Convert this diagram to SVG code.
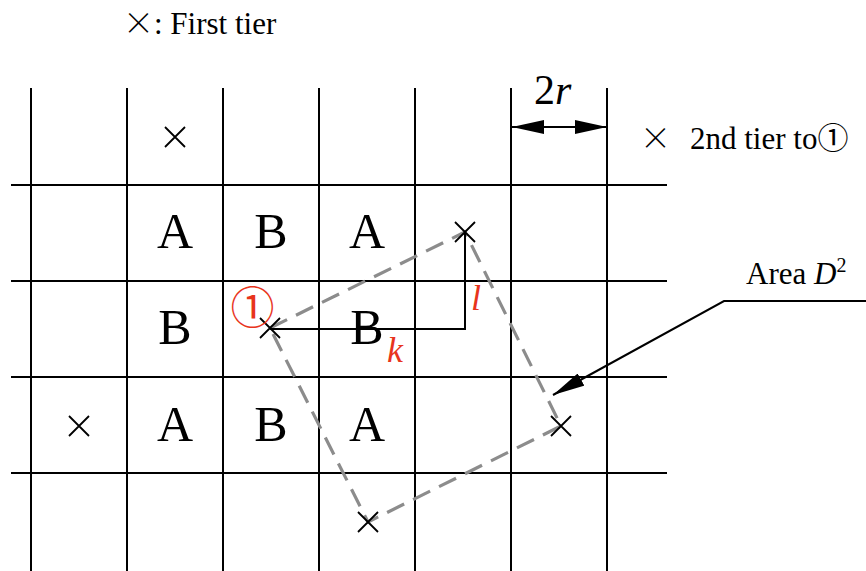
<svg xmlns="http://www.w3.org/2000/svg" width="866" height="571" viewBox="0 0 866 571">
<style>
.g{stroke:#000;stroke-width:2;fill:none}
.x{stroke:#000;stroke-width:1.8;fill:none}
.t{font-family:"Liberation Serif","Noto Sans CJK JP",serif;fill:#000}
.cjk{font-family:"Noto Sans CJK JP",sans-serif}
.L{font-size:50px;text-anchor:middle}
.r{fill:#e8341c}
.dash{stroke:#8c8c8c;stroke-width:3.2;fill:none;stroke-dasharray:19 10}
</style>
<defs>
<marker id="ah" viewBox="0 0 32 14" refX="32" refY="7" markerWidth="32" markerHeight="14" markerUnits="userSpaceOnUse" orient="auto-start-reverse">
<path d="M0,0 L32,7 L0,14 Z" fill="#000"/>
</marker>
</defs>
<rect width="866" height="571" fill="#fff"/>
<g id="grid">
<path class="g" d="M31,88V571M127,88V571M223,88V571M319,88V571M415,88V571M511,88V571M607,88V571"/>
<path class="g" d="M11,185H667M11,281H667M11,377H667M11,473H667"/>
</g>
<g id="legend-first">
<text class="t" x="123" y="34" font-size="31"><tspan class="cjk" font-weight="300">×</tspan>: First tier</text>
</g>
<g id="legend-second">
<text class="t" x="640" y="149" font-size="31"><tspan class="cjk" font-weight="300">×</tspan></text>
<text class="t" x="690" y="149" font-size="31">2nd tier to<tspan class="cjk">①</tspan></text>
</g>
<g id="dim-2r">
<text class="t" x="534" y="104" font-size="42">2<tspan font-style="italic">r</tspan></text>
</g>
<g id="cells">
<text class="t L" x="175" y="248">A</text>
<text class="t L" x="271" y="248">B</text>
<text class="t L" x="367" y="248">A</text>
<text class="t L" x="175" y="344">B</text>
<text class="t L" x="367" y="344">B</text>
<text class="t L" x="175" y="441">A</text>
<text class="t L" x="271" y="441">B</text>
<text class="t L" x="367" y="441">A</text>
</g>
<g id="area">
<path class="dash" d="M270,328 L465,232 L561,426 L368,522 Z"/>
</g>
<g id="crosses">
<path class="x" d="M165,127l20,20M185,127l-20,20"/>
<path class="x" d="M69,416l20,20M89,416l-20,20"/>
<path class="x" d="M260,318l20,20M280,318l-20,20"/>
<path class="x" d="M455,222l20,20M475,222l-20,20"/>
<path class="x" d="M551,416l20,20M571,416l-20,20"/>
<path class="x" d="M358,512l20,20M378,512l-20,20"/>
</g>
<g id="connectors">
<path class="g" d="M512,127H607" marker-start="url(#ah)" marker-end="url(#ah)"/>
<path class="g" d="M270,329H465V232"/>
<path class="g" d="M866,301H724L553,395" marker-end="url(#ah)"/>
</g>
<g id="labels">
<text class="t r cjk" x="252.5" y="324" font-size="44" text-anchor="middle">①</text>
<text class="t r" x="387" y="362" font-size="36" font-style="italic">k</text>
<text class="t r" x="471" y="310" font-size="36" font-style="italic">l</text>
<text class="t" x="746" y="284" font-size="31">Area <tspan font-style="italic">D</tspan><tspan font-size="20" dy="-12">2</tspan></text>
</g>
</svg>
